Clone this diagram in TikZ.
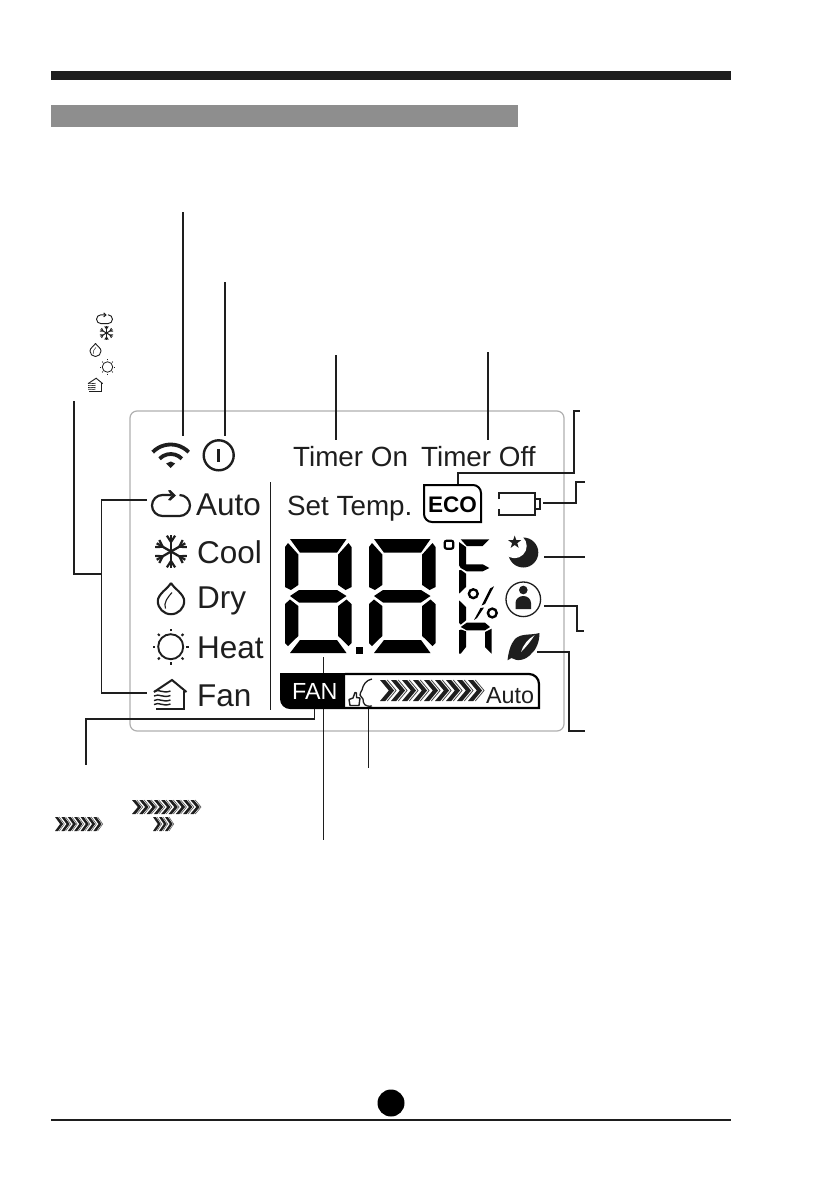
\documentclass[tikz,border=0pt]{standalone}
\usepackage{fontspec}
\setmainfont{Liberation Sans}
\usetikzlibrary{calc}
\definecolor{inkk}{HTML}{1E1E1E}
\definecolor{panelgray}{HTML}{B0B0B0}
\definecolor{bargray}{HTML}{8E8E8E}
\tikzset{
  conn/.style={draw=inkk,line width=1.3pt},
  connb/.style={draw=inkk,line width=2pt},
  lbl/.style={inner sep=0pt,anchor=base west,text=inkk},
  icon/.style={x=1pt,y=1pt},
}
% icons: #1 x, #2 y, #3 scale; local coordinates y up
\newcommand\autoicon[3]{\begin{scope}[shift={(#1,#2)},icon,scale=#3]
  \draw[inkk,line width=#3*2.2pt] (8.5,10) arc (90:-90:10.5) -- (-8.5,-11) arc (270:90:10.5) .. controls (-6,10) and (-3,10) .. (0,10);
  \fill[inkk] (-3,14.5) -- (-0.5,15) -- (5,9.5) -- (-0.5,4.5) -- (-3,5) -- (0.5,9.5) -- cycle;
\end{scope}}
\newcommand\snowicon[3]{\begin{scope}[shift={(#1,#2)},icon,scale=#3]
  \foreach \a in {90,150,210,270,330,30}{
    \draw[inkk,line width=#3*2.3pt] (0,0) -- (\a:16.5);
    \draw[inkk,line width=#3*2.2pt] ($(\a:13)+(\a-55:5)$) -- (\a:9.5) -- ($(\a:13)+(\a+55:5)$);
  }
\end{scope}}
\newcommand\dropicon[3]{\begin{scope}[shift={(#1,#2)},icon,scale=#3]
  \draw[inkk,line width=#3*2.1pt,line join=round] (0,18) .. controls (-3,12.5) and (-13.2,7) .. (-13.2,0) arc (180:360:13.2) .. controls (13.2,7) and (3,12.5) .. (0,18);
  \draw[inkk,line width=#3*1.1pt] (-5.5,-7.5) .. controls (-8,-2) and (-3,4) .. (1,8.5);
\end{scope}}
\newcommand\sunicon[3]{\begin{scope}[shift={(#1,#2)},icon,scale=#3]
  \draw[inkk,line width=#3*1.9pt] (0,0) circle[radius=12.5];
  \foreach \a in {0,45,...,315}{\draw[inkk,line width=#3*2pt] (\a:15.5) -- (\a:18);}
\end{scope}}
\newcommand\houseicon[3]{\begin{scope}[shift={(#1,#2)},icon,scale=#3]
  \draw[inkk,line width=#3*2pt,line join=miter] (-16.5,3) -- (1.5,15) -- (16,3);
  \draw[inkk,line width=#3*2pt] (13,4.5) -- (13,-13.5) -- (-14.5,-13.5);
  \foreach \yy in {3.5,-1,-5.5,-9.5}{
    \draw[inkk,line width=#3*1.4pt] (-16.5,\yy) .. controls (-11,\yy+3) and (-8,\yy-2.5) .. (0,\yy+0.5);
  }
\end{scope}}
% chevron row: #1 x, #2 y top, #3 pitch, #4 height, #5 count
\newcommand\chevrons[5]{\begin{scope}[shift={(#1,#2)}]
  \foreach \i in {1,...,#5}{
    \begin{scope}[xshift={(\i-1)*#3*1pt}]
      \fill[inkk] (0,0) -- (0.48*#3,0) -- (1.28*#3,#4/2) -- (0.48*#3,#4) -- (0,#4) -- (0.8*#3,#4/2) -- cycle;
      \draw[inkk!80,line width={0.075*#3*1pt}] (0.66*#3,0) -- (1.46*#3,#4/2) -- (0.66*#3,#4);
    \end{scope}
  }
\end{scope}}
% seven-segment digit
\newcommand\digit[2]{\begin{scope}[shift={(#1,#2)}]
  \fill[black]
   (5,0) -- (61.5,0) -- (52,13.7) -- (15,13.7) -- cycle
   (0,8) -- (3,4) -- (13.3,15.5) -- (13.3,46) -- (6,51) -- (0,48) -- cycle
   (66.5,8) -- (63.5,4) -- (53.2,15.5) -- (53.2,46) -- (60.5,51) -- (66.5,48) -- cycle
   (5,57) -- (14,51) -- (52,51) -- (61.5,57) -- (52,63.5) -- (14,63.5) -- cycle
   (0,65) -- (5,60.5) -- (13.3,67) -- (13.3,97) -- (3,107) -- (0,104) -- cycle
   (66.5,65) -- (61.5,60.5) -- (53.2,67) -- (53.2,97) -- (63.5,107) -- (66.5,104) -- cycle
   (15,101) -- (52,101) -- (61.5,114) -- (5,114) -- cycle;
\end{scope}}
\begin{document}
\begin{tikzpicture}[x=1pt,y=-1pt]
\useasboundingbox (0,0) rectangle (839,1191);
\fill[white] (0,0) rectangle (839,1191);
% page furniture
\fill[inkk] (51,71) rectangle (731,79.5);
\fill[bargray] (51,105) rectangle (518,127);
\fill[inkk] (51,1119) rectangle (731,1121);
\fill[black] (391,1103) circle[radius=13.5pt];
% panel
\draw[panelgray,line width=1.2pt,rounded corners=7pt] (130,411) rectangle (564,731);
\draw[inkk,line width=1.2pt] (270.5,482) -- (270.5,710);
% anchors for connectors
\coordinate (wifiT) at (183,212); \coordinate (wifiB) at (183,436);
\coordinate (pwrT) at (225,282); \coordinate (pwrB) at (225,436);
\coordinate (tonT) at (336,355); \coordinate (tonB) at (336,440);
\coordinate (toffT) at (488,352); \coordinate (toffB) at (488,440);
\coordinate (ecoA) at (458,485); \coordinate (ecoL) at (580,411);
\coordinate (batA) at (543,503); \coordinate (batL) at (585,482);
\coordinate (moonA) at (544,557); \coordinate (moonL) at (585,557);
\coordinate (perA) at (544,606); \coordinate (perL) at (584,631);
\coordinate (leafA) at (537,652); \coordinate (leafL) at (585,731);
\coordinate (legT) at (74,401);
\coordinate (brkJ) at (101.5,574);
\coordinate (autoA) at (147,500); \coordinate (fanA) at (147,693);
\coordinate (fanbarA) at (314.5,709); \coordinate (fanbarL) at (86,765);
\coordinate (digA) at (323.5,657); \coordinate (digL) at (323.5,840);
\coordinate (earA) at (368.5,708); \coordinate (earL) at (368.5,768);
% connectors
\draw[conn] (wifiT) -- (wifiB);
\draw[connb] (pwrT) -- (pwrB);
\draw[conn] (tonT) -- (tonB);
\draw[conn] (toffT) -- (toffB);
\draw[conn] (ecoA) |- (574,473) |- (ecoL);
\draw[conn] (batA) -| (576,482) -- (batL);
\draw[conn] (moonA) -- (moonL);
\draw[connb,line width=1.5pt] (perA) -| (577,631) -- (perL);
\draw[conn] (leafA) -| (569,731) -- (leafL);
\draw[conn] (legT) |- (brkJ);
\draw[connb,line width=1.6pt] (autoA) -| (brkJ) |- (fanA);
\draw[conn] (fanbarA) |- (86,719) -- (fanbarL);
\draw[connb,line width=1.6pt] (digA) -- (digL);
\draw[conn] (earA) -- (earL);
% legend icons
\autoicon{104.5}{319}{0.42}
\snowicon{106.5}{333}{0.42}
\dropicon{95.5}{351}{0.42}
\sunicon{107.5}{367}{0.42}
\houseicon{95.5}{385}{0.45}
% legend chevrons
\chevrons{132}{800}{7.3}{14}{9}
\chevrons{55}{817}{6.4}{14}{7}
\chevrons{153}{817}{6.0}{14}{3}
% panel icons
\begin{scope}[shift={(170.7,469.5)},icon]
  \foreach \r in {25,15.5}{\draw[inkk,line width=3.8pt] (44:\r) arc (44:136:\r);}
  \fill[inkk] (0,1.5) -- (-4.5,6) -- (0,8) -- (4.5,6) -- cycle;
\end{scope}
\begin{scope}[shift={(218.7,455.3)},icon]
  \draw[inkk,line width=2.4pt] (0,0) circle[radius=15];
  \draw[inkk,line width=2.6pt] (0,6.5) -- (0,-6.5);
\end{scope}
\autoicon{171}{505}{1}
\snowicon{171}{551.5}{1}
\dropicon{171}{601}{1}
\sunicon{170.7}{646.7}{1}
\houseicon{170.5}{695}{1}
% panel texts
\node[lbl,font=\fontsize{31.5}{31.5}\selectfont] (tAuto) at (196,515.5) {Auto};
\node[lbl,font=\fontsize{31.5}{31.5}\selectfont] (tCool) at (197,563) {Cool};
\node[lbl,font=\fontsize{31.5}{31.5}\selectfont] (tDry) at (197,608) {Dry};
\node[lbl,font=\fontsize{31.5}{31.5}\selectfont] (tHeat) at (197,658) {Heat};
\node[lbl,font=\fontsize{31.5}{31.5}\selectfont] (tFan) at (197,706) {Fan};
\node[lbl,font=\fontsize{27.8}{27.8}\selectfont] (tSet) at (287,515) {Set Temp.};
\node[lbl,font=\fontsize{27.8}{27.8}\selectfont] (tOn) at (293,466) {Timer On};
\node[lbl,font=\fontsize{27.8}{27.8}\selectfont] (tOff) at (421,466) {Timer Off};
% ECO
\draw[black,line width=2pt] (424,485) -- (473,485) to[out=0,in=90] (481,493) -- (481,522) -- (432,522) to[out=180,in=-90] (424,514) -- cycle;
\node[lbl,font=\bfseries\fontsize{22.5}{22.5}\selectfont,text=black] (tEco) at (428,512) {ECO};
% battery
\draw[inkk,line width=2pt] (499,499) -- (499,493) -- (535,493) -- (535,515) -- (499,515) -- (499,509);
\draw[inkk,line width=2pt] (535,499) -- (540,499) -- (540,509) -- (535,509);
% digits
\digit{285}{539}
\digit{369}{539}
\fill[black] (356,647) rectangle (363,653.5);
% degree
\draw[black,line width=2.2pt,rounded corners=2pt] (444.7,540.7) rectangle (453.3,548.7);
% F / % / h
\fill[black]
 (460.7,539.3) -- (489.3,539.3) -- (482.7,546) -- (466.7,546) -- cycle
 (459,542) -- (466,547) -- (466,564.3) -- (460.7,568) -- (459,565.3) -- cycle
 (460.7,568) -- (466.7,564.3) -- (482.7,564.3) -- (489.3,568) -- (482.7,571.3) -- (466.7,571.3) -- cycle
 (459,570.3) -- (461,570) -- (466,573.7) -- (466,587) -- (459,593.7) -- cycle
 (459,600.3) -- (466,607) -- (466,620.3) -- (460.7,624.7) -- (459,622.7) -- cycle
 (460.7,627) -- (466.7,622.7) -- (485,622.7) -- (490,627) -- (485,630.3) -- (466.7,630.3) -- cycle
 (459,630.3) -- (461,629.5) -- (466,631.3) -- (466,647) -- (460.7,653.7) -- (459,653.7) -- cycle
 (491.7,628.7) -- (485,632) -- (485,647) -- (491.7,653.7) -- cycle
 (494,586.3) -- (490,588.5) -- (481.5,605.5) -- (485,604) -- cycle
 (480.5,608) -- (474,620) -- (477,618) -- (484,607.5) -- cycle;
\draw[black,line width=2.4pt] (473.3,593.7) circle[radius=4.4pt];
\draw[black,line width=2.4pt] (492.3,613) circle[radius=4.4pt];
% moon
\fill[inkk] (523.3,552.5) circle[radius=15pt];
\fill[white] (514.5,546) circle[radius=12.2pt];
\begin{scope}[shift={(514.7,542.3)},icon]
  \fill[inkk] (90:6.8) -- (126:2.7) -- (162:6.8) -- (198:2.7) -- (234:6.8) -- (270:2.7) -- (306:6.8) -- (342:2.7) -- (18:6.8) -- (54:2.7) -- cycle;
\end{scope}
% person
\draw[inkk,line width=1.3pt] (523.3,599.3) circle[radius=17.3pt];
\fill[inkk] (523.3,590) circle[radius=4.3pt];
\fill[inkk] (515.5,609) -- (515.5,603) to[out=90,in=180] (523.3,596) to[out=0,in=90] (531,603) -- (531,609) -- cycle;
% leaf
\fill[inkk] (507.5,660.3) .. controls (508.5,652) and (510.5,644) .. (515,639) .. controls (521,633) and (531,635.5) .. (539.5,633) .. controls (539.5,642) and (536,650) .. (531,654) .. controls (526,660) and (517,662) .. (511.5,658) -- cycle;
\fill[white] (521,652) .. controls (523,645) and (528,639) .. (534.5,635.2) .. controls (531,641) and (526,647) .. (521,652) -- cycle;
% fan bar
\fill[black] (280,673) -- (345,673) -- (345,709) -- (290,709) to[out=180,in=-90] (280,699) -- cycle;
\draw[black,line width=2.2pt] (345,674) -- (529,674) to[out=0,in=90] (539,684) -- (539,708) -- (345,708);
\node[lbl,font=\fontsize{23.3}{23.3}\selectfont,text=white] (tFanBar) at (292,699.5) {FAN};
\node[lbl,font=\fontsize{23.3}{23.3}\selectfont] (tAutoBar) at (486,703) {Auto};
\chevrons{380}{680}{11}{21}{9}
% ear/hand
\draw[inkk,line width=1.3pt,line join=round] (372,679) .. controls (366,680) and (363,685) .. (362,690) .. controls (361,692) and (360,693) .. (360,695) .. controls (361,697) and (362,697) .. (363,699) .. controls (363,704) and (365,707) .. (372,706);
\draw[inkk,line width=1.4pt,line join=round] (350,705.5) -- (349,699.5) -- (353,698) -- (355,692.5) -- (356.5,693) -- (356.5,697.5) -- (360,698) -- (359,705.5) -- cycle;
\end{tikzpicture}
\end{document}
